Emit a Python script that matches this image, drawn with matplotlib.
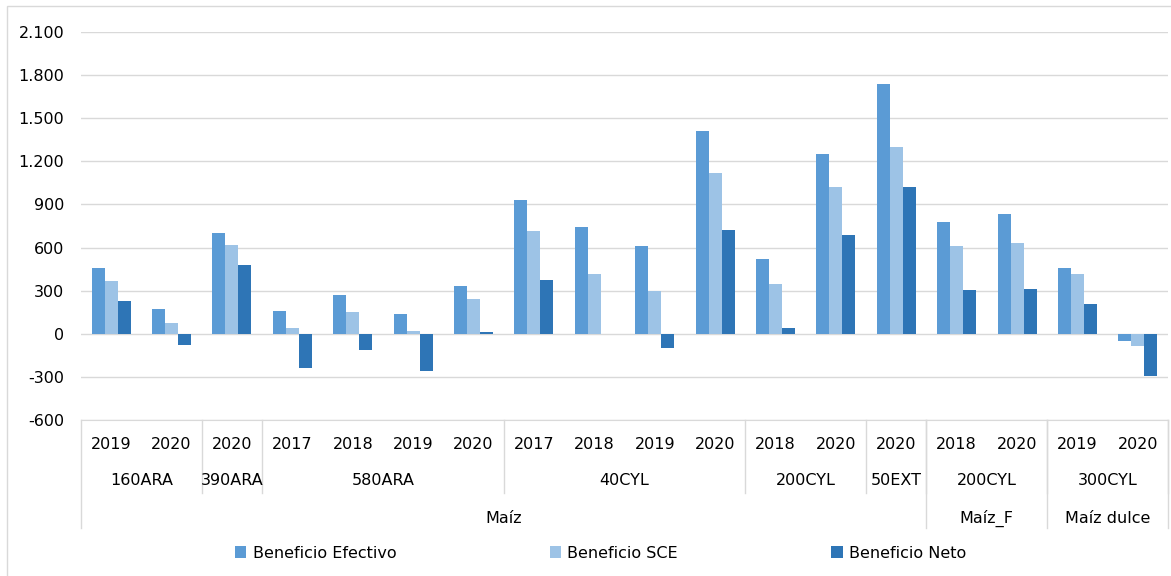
import numpy as np
import matplotlib.pyplot as plt
from matplotlib.patches import Rectangle
from matplotlib.ticker import FuncFormatter

# data
years = ['2019', '2020', '2020', '2017', '2018', '2019', '2020', '2017', '2018',
         '2019', '2020', '2018', '2020', '2020', '2018', '2020', '2019', '2020']
sites = [('160ARA', 2), ('390ARA', 1), ('580ARA', 4), ('40CYL', 4),
         ('200CYL', 2), ('50EXT', 1), ('200CYL', 2), ('300CYL', 2)]
crops = [('Maíz', 14), ('Maíz_F', 2), ('Maíz dulce', 2)]

ben_efectivo = [459, 170, 700, 160, 270, 140, 335, 930, 740, 610, 1410, 520, 1250, 1735, 780, 835, 455, -50]
ben_sce = [369, 75, 615, 40, 150, 20, 245, 715, 415, 300, 1120, 345, 1020, 1300, 610, 635, 415, -85]
ben_neto = [230, -80, 480, -240, -115, -260, 15, 375, -5, -100, 725, 40, 690, 1020, 305, 310, 210, -295]

series = [('Beneficio Efectivo', ben_efectivo, '#5B9BD5'),
          ('Beneficio SCE', ben_sce, '#9DC3E6'),
          ('Beneficio Neto', ben_neto, '#2E75B6')]

plt.rcParams['font.family'] = ['DejaVu Sans']

fig = plt.figure(figsize=(11.71, 5.76), dpi=100)
fig.patches.append(Rectangle((0.006, -0.01), 1.1, 1.0, transform=fig.transFigure,
                             fill=False, edgecolor='#D9D9D9', linewidth=1))
ax = fig.add_axes([81 / 1171, 1 - 420 / 576, 1087 / 1171, 388 / 576])

n = len(years)
x = np.arange(n)
w = 0.215
for i, (name, vals, col) in enumerate(series):
    ax.bar(x + (i - 1) * w, vals, width=w, color=col, label=name, zorder=3)

ax.set_xlim(-0.5, n - 0.5)
ax.set_ylim(-600, 2100)
ax.set_yticks(np.arange(-600, 2101, 300))
ax.yaxis.set_major_formatter(FuncFormatter(lambda v, p: f'{int(v):,}'.replace(',', '.')))
ax.grid(axis='y', color='#D9D9D9', linewidth=1, zorder=0)
ax.tick_params(axis='y', length=0, labelsize=11.5, pad=12)
ax.set_xticks([])
for s in ['top', 'right', 'left']:
    ax.spines[s].set_visible(False)
ax.spines['bottom'].set_color('#D9D9D9')

# multi-level category axis
tr = ax.get_xaxis_transform()
y_year, y_site, y_crop = -0.064, -0.157, -0.253
y_site_line, y_crop_line = -0.188, -0.278
for i, yr in enumerate(years):
    ax.text(i, y_year, yr, transform=tr, ha='center', va='center', fontsize=11.5)

pos = 0
for name, cnt in sites:
    ax.text(pos + cnt / 2 - 0.5, y_site, name, transform=tr, ha='center', va='center', fontsize=11.5)
    pos += cnt
    ax.plot([pos - 0.5, pos - 0.5], [0, y_site_line], transform=tr, color='#D9D9D9',
            linewidth=1, clip_on=False)

pos = 0
ax.plot([-0.5, -0.5], [0, y_crop_line], transform=tr, color='#D9D9D9', linewidth=1, clip_on=False)
for name, cnt in crops:
    ax.text(pos + cnt / 2 - 0.5, y_crop, name, transform=tr, ha='center', va='center', fontsize=11.5)
    pos += cnt
    ax.plot([pos - 0.5, pos - 0.5], [0, y_crop_line], transform=tr, color='#D9D9D9',
            linewidth=1, clip_on=False)

fig.legend(loc='center', bbox_to_anchor=(0.513, 1 - 553 / 576), ncol=3, frameon=False,
           fontsize=11.5, handlelength=0.7, handleheight=0.7, handletextpad=0.4,
           columnspacing=9.6)

fig.savefig('out.png', dpi=100)
